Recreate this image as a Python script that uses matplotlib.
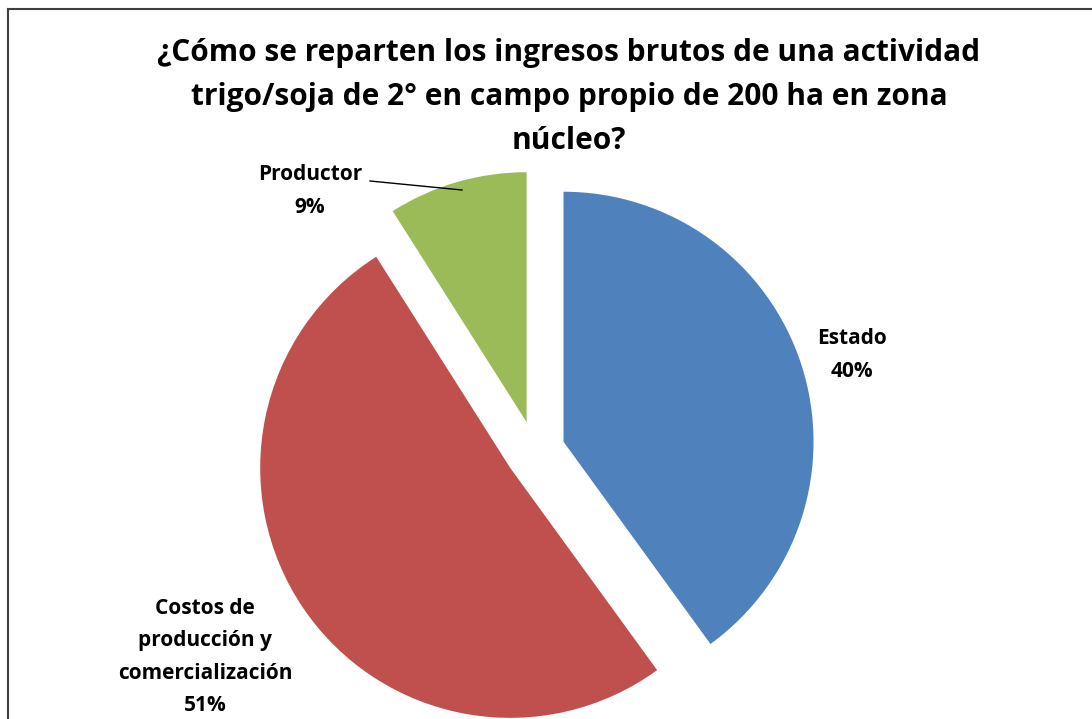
import matplotlib.pyplot as plt

# datos
categorias = ['Estado', 'Costos de\nproducción y\ncomercialización', 'Productor']
valores = [40, 51, 9]
porcentajes = ['40%', '51%', '9%']
colores = ['#4F81BD', '#C0504D', '#9BBB59']
titulo = ('¿Cómo se reparten los ingresos brutos de una actividad\n'
          'trigo/soja de 2° en campo propio de 200 ha en zona\nnúcleo?')

W, H = 1092, 719
R = 250
fig = plt.figure(figsize=(W / 100, H / 100), dpi=100)
ax = fig.add_axes([0, 0, 1, 1])

# pie en coordenadas de pixel (y hacia arriba)
wedges, _ = ax.pie(valores, colors=colores, startangle=90, counterclock=False,
                   explode=[0.12 * R] * 3, radius=R, center=(535, H - 451),
                   frame=False, wedgeprops=dict(linewidth=0))
ax.set_xlim(0, W)
ax.set_ylim(0, H)
ax.set_aspect('equal')
ax.axis('off')

fuente = ['Open Sans', 'DejaVu Sans']
kw = dict(ha='center', va='center', fontsize=15, fontweight='bold',
          family=fuente, linespacing=1.7)

# titulo
ax.text(569, H - 97, titulo, ha='center', va='center', fontsize=21.5,
        fontweight='bold', family=fuente, linespacing=1.6, color='#000000')

# etiquetas
ax.text(852, H - 355, categorias[0] + '\n' + porcentajes[0], **kw)
ax.text(205, H - 657, categorias[1] + '\n' + porcentajes[1], **kw)
ax.text(310, H - 191, categorias[2] + '\n' + porcentajes[2], **kw)
# linea guia del productor
ax.plot([370, 462], [H - 181, H - 190], color='black', linewidth=1)

# marco (arriba e izquierda, el resto queda recortado)
ax.plot([8, W], [H - 9, H - 9], color='#404040', linewidth=1.5)
ax.plot([8, 8], [0, H - 9], color='#404040', linewidth=1.5)

fig.savefig('out.png', dpi=100)
